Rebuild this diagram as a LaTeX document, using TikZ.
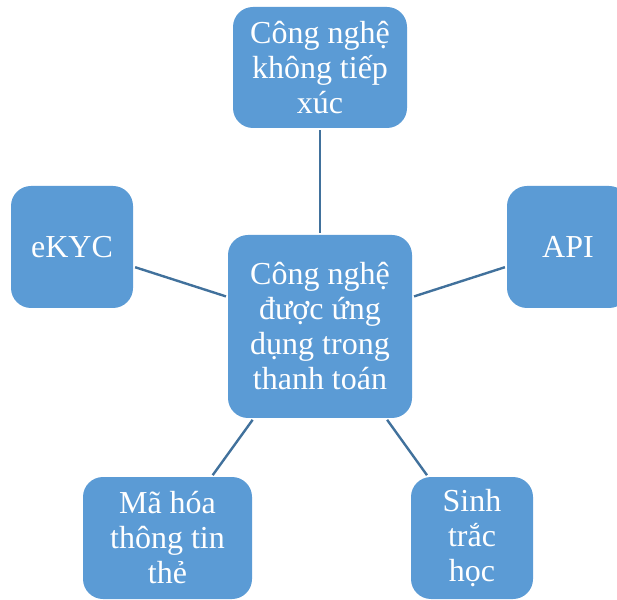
\documentclass[tikz,border=0pt]{standalone}
\usepackage{fontspec}
\setmainfont{Liberation Serif}
\begin{document}
\definecolor{boxblue}{HTML}{5B9BD5}
\definecolor{linkblue}{HTML}{41719C}
\begin{tikzpicture}[x=1pt,y=1pt,
  topic/.style={rectangle, rounded corners=20pt, fill=boxblue, text=white,
    align=center, inner sep=0pt,
    font=\fontsize{32}{35}\selectfont},
  link/.style={draw=linkblue, line width=2.4pt, shorten >=2pt, shorten <=2pt}]
\useasboundingbox (0,0) rectangle (617,599);
\begin{scope}
\clip (0,0) rectangle (617,599);
% central topic
\node[topic, minimum width=184pt, minimum height=183pt] (hub) at (320,272.5)
  {Công nghệ\\được ứng\\dụng trong\\thanh toán};
% surrounding topics
\node[topic, minimum width=174pt, minimum height=121pt] (contactless) at (320,531.5)
  {Công nghệ\\không tiếp\\xúc};
\node[topic, minimum width=122pt, minimum height=122pt] (ekyc) at (72,352)
  {eKYC};
\node[topic, minimum width=122pt, minimum height=122pt] (api) at (568,352)
  {API};
\node[topic, minimum width=169pt, minimum height=122pt] (crypto) at (167.5,61)
  {Mã hóa\\thông tin\\thẻ};
\node[topic, minimum width=122pt, minimum height=122pt] (bio) at (472,61)
  {Sinh\\trắc\\học};
% connectors
\draw[link] (hub) -- (contactless);
\draw[link] (hub) -- (ekyc);
\draw[link] (hub) -- (api);
\draw[link] (hub) -- (crypto);
\draw[link] (hub) -- (bio);
\end{scope}
\end{tikzpicture}
\end{document}
